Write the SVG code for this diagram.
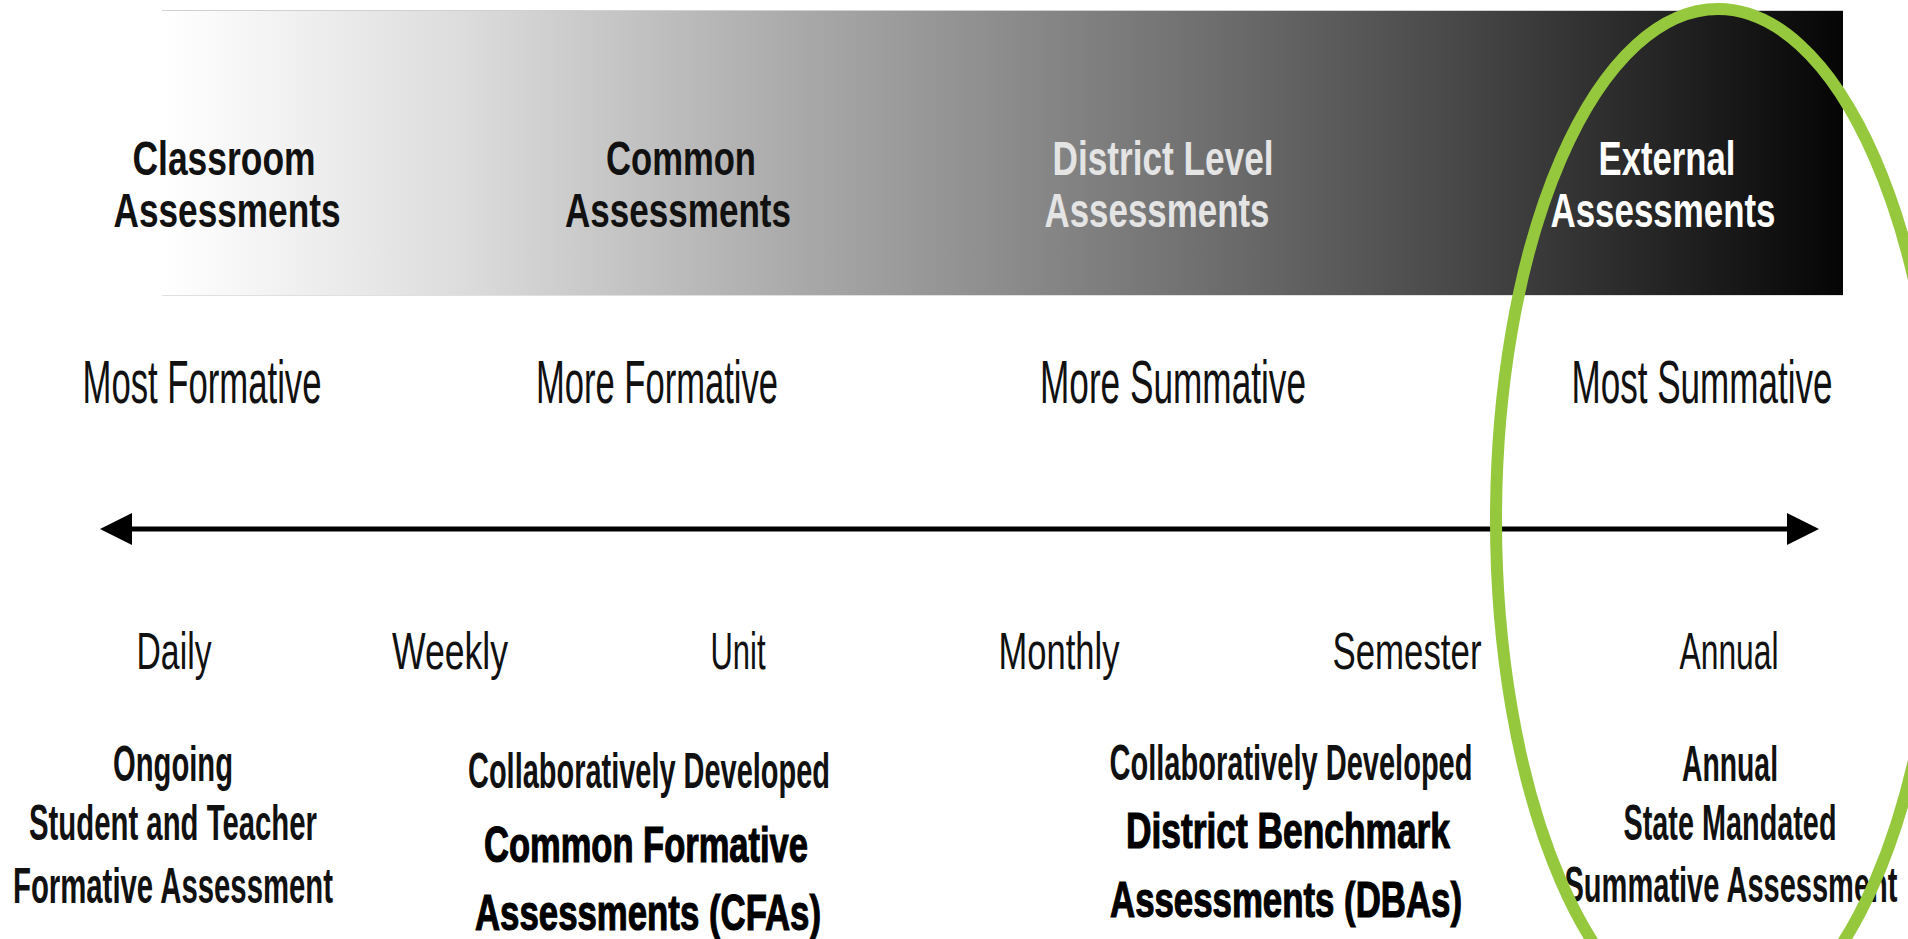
<svg xmlns="http://www.w3.org/2000/svg" width="1908" height="939" viewBox="0 0 1908 939">
  <defs>
    <linearGradient id="barGrad" x1="0" y1="0" x2="1" y2="0">
      <stop offset="0" stop-color="#ffffff"/>
      <stop offset="0.05" stop-color="#f6f6f6"/>
      <stop offset="0.18" stop-color="#dcdcdc"/>
      <stop offset="0.38" stop-color="#a9a9a9"/>
      <stop offset="0.51" stop-color="#8a8a8a"/>
      <stop offset="0.64" stop-color="#6a6a6a"/>
      <stop offset="0.77" stop-color="#484848"/>
      <stop offset="0.90" stop-color="#222222"/>
      <stop offset="1" stop-color="#050505"/>
    </linearGradient>
    <style>
      text { font-family: "Liberation Sans", Arial, sans-serif; text-anchor: middle; }
      .head { font-size: 49px; font-weight: bold; }
      .dark { fill: #111111; }
      .gray { fill: #e4e4e4; }
      .white { fill: #ffffff; }
      .level { font-size: 62px; fill: #111111; }
      .freq { font-size: 52px; fill: #111111; }
      .desc { font-size: 50px; font-weight: bold; fill: #111111; }
      .heavy { font-size: 50px; font-weight: bold; fill: #000000; stroke: #000000; stroke-width: 1.2px; }
      .axis { stroke: #000000; stroke-width: 5; fill: none; }
      .head-arrow { fill: #000000; }
      .highlight { fill: none; stroke: #95c83d; stroke-width: 12; }
    </style>
  </defs>

  <rect x="0" y="0" width="1908" height="939" fill="#ffffff"/>

  <g id="gradient-bar">
    <rect x="162" y="10" width="1681" height="286" fill="url(#barGrad)"/>
    <line x1="162" y1="10.5" x2="1843" y2="10.5" stroke="#d0d0d0" stroke-width="1"/>
    <line x1="162" y1="295.5" x2="1843" y2="295.5" stroke="#e0e0e0" stroke-width="1"/>
  </g>

  <g id="classroom-assessments">
    <text class="head dark" x="224" y="175" textLength="183" lengthAdjust="spacingAndGlyphs">Classroom</text>
    <text class="head dark" x="227" y="227" textLength="227" lengthAdjust="spacingAndGlyphs">Assessments</text>
  </g>
  <g id="common-assessments">
    <text class="head dark" x="681" y="175" textLength="150" lengthAdjust="spacingAndGlyphs">Common</text>
    <text class="head dark" x="678" y="227" textLength="226" lengthAdjust="spacingAndGlyphs">Assessments</text>
  </g>
  <g id="district-level-assessments">
    <text class="head gray" x="1163" y="175" textLength="221" lengthAdjust="spacingAndGlyphs">District Level</text>
    <text class="head gray" x="1157" y="227" textLength="225" lengthAdjust="spacingAndGlyphs">Assessments</text>
  </g>
  <g id="external-assessments">
    <text class="head white" x="1667" y="175" textLength="137" lengthAdjust="spacingAndGlyphs">External</text>
    <text class="head white" x="1663" y="227" textLength="225" lengthAdjust="spacingAndGlyphs">Assessments</text>
  </g>

  <g id="most-formative">
    <text class="level" x="202" y="403" textLength="239" lengthAdjust="spacingAndGlyphs">Most Formative</text>
  </g>
  <g id="more-formative">
    <text class="level" x="657" y="403" textLength="242" lengthAdjust="spacingAndGlyphs">More Formative</text>
  </g>
  <g id="more-summative">
    <text class="level" x="1173" y="403" textLength="266" lengthAdjust="spacingAndGlyphs">More Summative</text>
  </g>
  <g id="most-summative">
    <text class="level" x="1702" y="403" textLength="261" lengthAdjust="spacingAndGlyphs">Most Summative</text>
  </g>

  <g id="connectors">
    <line class="axis" x1="128" y1="529" x2="1790" y2="529"/>
    <polygon class="head-arrow" points="100,529 132,513 132,545"/>
    <polygon class="head-arrow" points="1819,529 1787,513 1787,545"/>
  </g>

  <g id="daily">
    <text class="freq" x="174" y="669" textLength="75" lengthAdjust="spacingAndGlyphs">Daily</text>
  </g>
  <g id="weekly">
    <text class="freq" x="450" y="669" textLength="116" lengthAdjust="spacingAndGlyphs">Weekly</text>
  </g>
  <g id="unit">
    <text class="freq" x="738" y="669" textLength="55" lengthAdjust="spacingAndGlyphs">Unit</text>
  </g>
  <g id="monthly">
    <text class="freq" x="1059" y="669" textLength="121" lengthAdjust="spacingAndGlyphs">Monthly</text>
  </g>
  <g id="semester">
    <text class="freq" x="1407" y="669" textLength="149" lengthAdjust="spacingAndGlyphs">Semester</text>
  </g>
  <g id="annual">
    <text class="freq" x="1729" y="669" textLength="99" lengthAdjust="spacingAndGlyphs">Annual</text>
  </g>

  <g id="ongoing-assessment">
    <text class="desc" x="173" y="781" textLength="120" lengthAdjust="spacingAndGlyphs">Ongoing</text>
    <text class="desc" x="173" y="840" textLength="288" lengthAdjust="spacingAndGlyphs">Student and Teacher</text>
    <text class="desc" x="173" y="903" textLength="320" lengthAdjust="spacingAndGlyphs">Formative Assessment</text>
  </g>
  <g id="common-formative-assessments">
    <text class="desc" x="649" y="788" textLength="362" lengthAdjust="spacingAndGlyphs">Collaboratively Developed</text>
    <text class="heavy" x="646" y="862" textLength="324" lengthAdjust="spacingAndGlyphs">Common Formative</text>
    <text class="heavy" x="648" y="930" textLength="346" lengthAdjust="spacingAndGlyphs">Assessments (CFAs)</text>
  </g>
  <g id="district-benchmark-assessments">
    <text class="desc" x="1291" y="780" textLength="363" lengthAdjust="spacingAndGlyphs">Collaboratively Developed</text>
    <text class="heavy" x="1288" y="848" textLength="324" lengthAdjust="spacingAndGlyphs">District Benchmark</text>
    <text class="heavy" x="1286" y="917" textLength="352" lengthAdjust="spacingAndGlyphs">Assessments (DBAs)</text>
  </g>
  <g id="state-summative-assessment">
    <text class="desc" x="1730" y="781" textLength="96" lengthAdjust="spacingAndGlyphs">Annual</text>
    <text class="desc" x="1730" y="840" textLength="213" lengthAdjust="spacingAndGlyphs">State Mandated</text>
    <text class="desc" x="1731" y="902" textLength="333" lengthAdjust="spacingAndGlyphs">Summative Assessment</text>
  </g>

  <g id="external-highlight">
    <ellipse class="highlight" cx="1718" cy="520" rx="222" ry="511"/>
  </g>
</svg>
